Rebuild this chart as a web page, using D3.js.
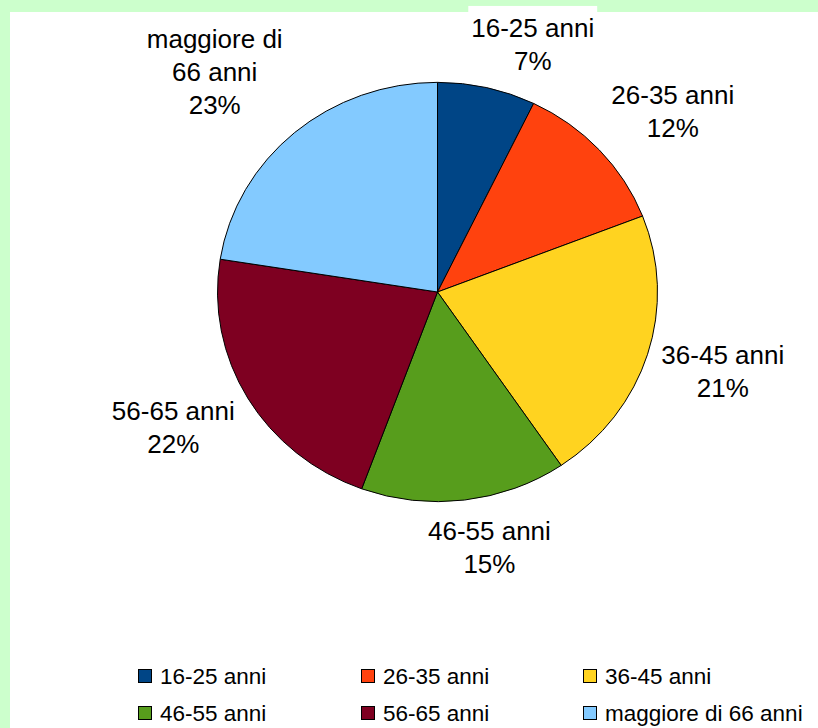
<!DOCTYPE html>
<html>
<head>
<meta charset="utf-8">
<script src="https://cdn.jsdelivr.net/npm/d3@7"></script>
<style>
  body { margin: 0; background: #ccffcc; }
  svg { display: block; font-family: "Liberation Sans", Arial, sans-serif; }
</style>
</head>
<body>
<div id="chart"></div>
<script>
// data
var categories = ["16-25 anni", "26-35 anni", "36-45 anni", "46-55 anni", "56-65 anni", "maggiore di 66 anni"];
var values = [7.2, 11.9, 21.4, 15.1, 21.9, 22.5];
var labelLines = [["16-25 anni"], ["26-35 anni"], ["36-45 anni"], ["46-55 anni"], ["56-65 anni"], ["maggiore di", "66 anni"]];
var colors = ["#004586", "#ff420e", "#ffd320", "#579d1c", "#7e0021", "#83caff"];

var width = 818, height = 728;
var cx = 437.5, cy = 292, radius = 220, squash = 0.953;

var svg = d3.select("#chart").append("svg")
    .attr("width", width)
    .attr("height", height);

// white chart area inside the green frame
svg.append("rect")
    .attr("x", 10).attr("y", 12)
    .attr("width", width - 10).attr("height", height - 12)
    .attr("fill", "#fff");

var total = d3.sum(values);
var pie = d3.pie().sort(null).value(function(d) { return d; });
var arcs = pie(values);

var arc = d3.arc().innerRadius(0).outerRadius(radius);

var g = svg.append("g")
    .attr("transform", "translate(" + cx + "," + cy + ") scale(1," + squash + ")");

g.selectAll("path")
    .data(arcs)
    .enter().append("path")
    .attr("d", arc)
    .attr("fill", function(d, i) { return colors[i]; })
    .attr("stroke", "#000")
    .attr("stroke-width", 1)
    .attr("vector-effect", "non-scaling-stroke");

// labels outside the pie
var fontSize = 26, lineH = 33, labelR = radius + 8;
var labels = svg.append("g").attr("font-size", fontSize).attr("fill", "#000");

function clamp(v, lo, hi) { return Math.max(lo, Math.min(hi, v)); }

arcs.forEach(function(d, i) {
  var a = (d.startAngle + d.endAngle) / 2;
  var s = Math.sin(a), c = Math.cos(a);
  var px = cx + labelR * s,
      py = cy - labelR * c * squash;
  var lines = labelLines[i].concat([Math.round(d.value / total * 100) + "%"]);
  var lab = labels.append("g");
  var txt = lab.append("text").attr("text-anchor", "middle");
  lines.forEach(function(l, j) {
    txt.append("tspan").attr("x", 0).attr("y", j * lineH).attr("dy", "0.35em").text(l);
  });
  var w = txt.node().getBBox().width, h = lines.length * lineH;
  // anchor of the text block relative to the point on the rim
  var ax = clamp(0.5 - 1.6 * s, -0.05, 1.05),
      ay = clamp(0.5 + 0.75 * c, -0.1, 1.05);
  var left = px - ax * w, top = py - ay * h;
  var tx = left + w / 2, ty = top + lineH / 2;
  lab.attr("transform", "translate(" + tx + "," + ty + ")");
  lab.insert("rect", "text")
    .attr("x", -w / 2 - 3).attr("y", -lineH / 2 - 5)
    .attr("width", w + 6).attr("height", h + 4)
    .attr("fill", "#fff");
});

// legend
var legend = svg.append("g").attr("font-size", 22.5);
var legX = d3.scaleOrdinal().domain([0, 1, 2]).range([138, 361, 583]);
var legY = d3.scaleOrdinal().domain([0, 1]).range([676, 713]);

var items = legend.selectAll("g")
    .data(categories)
    .enter().append("g")
    .attr("transform", function(d, i) { return "translate(" + legX(i % 3) + "," + legY(Math.floor(i / 3)) + ")"; });

items.append("rect")
    .attr("x", 0.5).attr("y", -6.5)
    .attr("width", 13).attr("height", 13)
    .attr("fill", function(d, i) { return colors[i]; })
    .attr("stroke", "#000");

items.append("text")
    .attr("x", 22)
    .attr("dy", "0.35em")
    .text(function(d) { return d; });
</script>
</body>
</html>
